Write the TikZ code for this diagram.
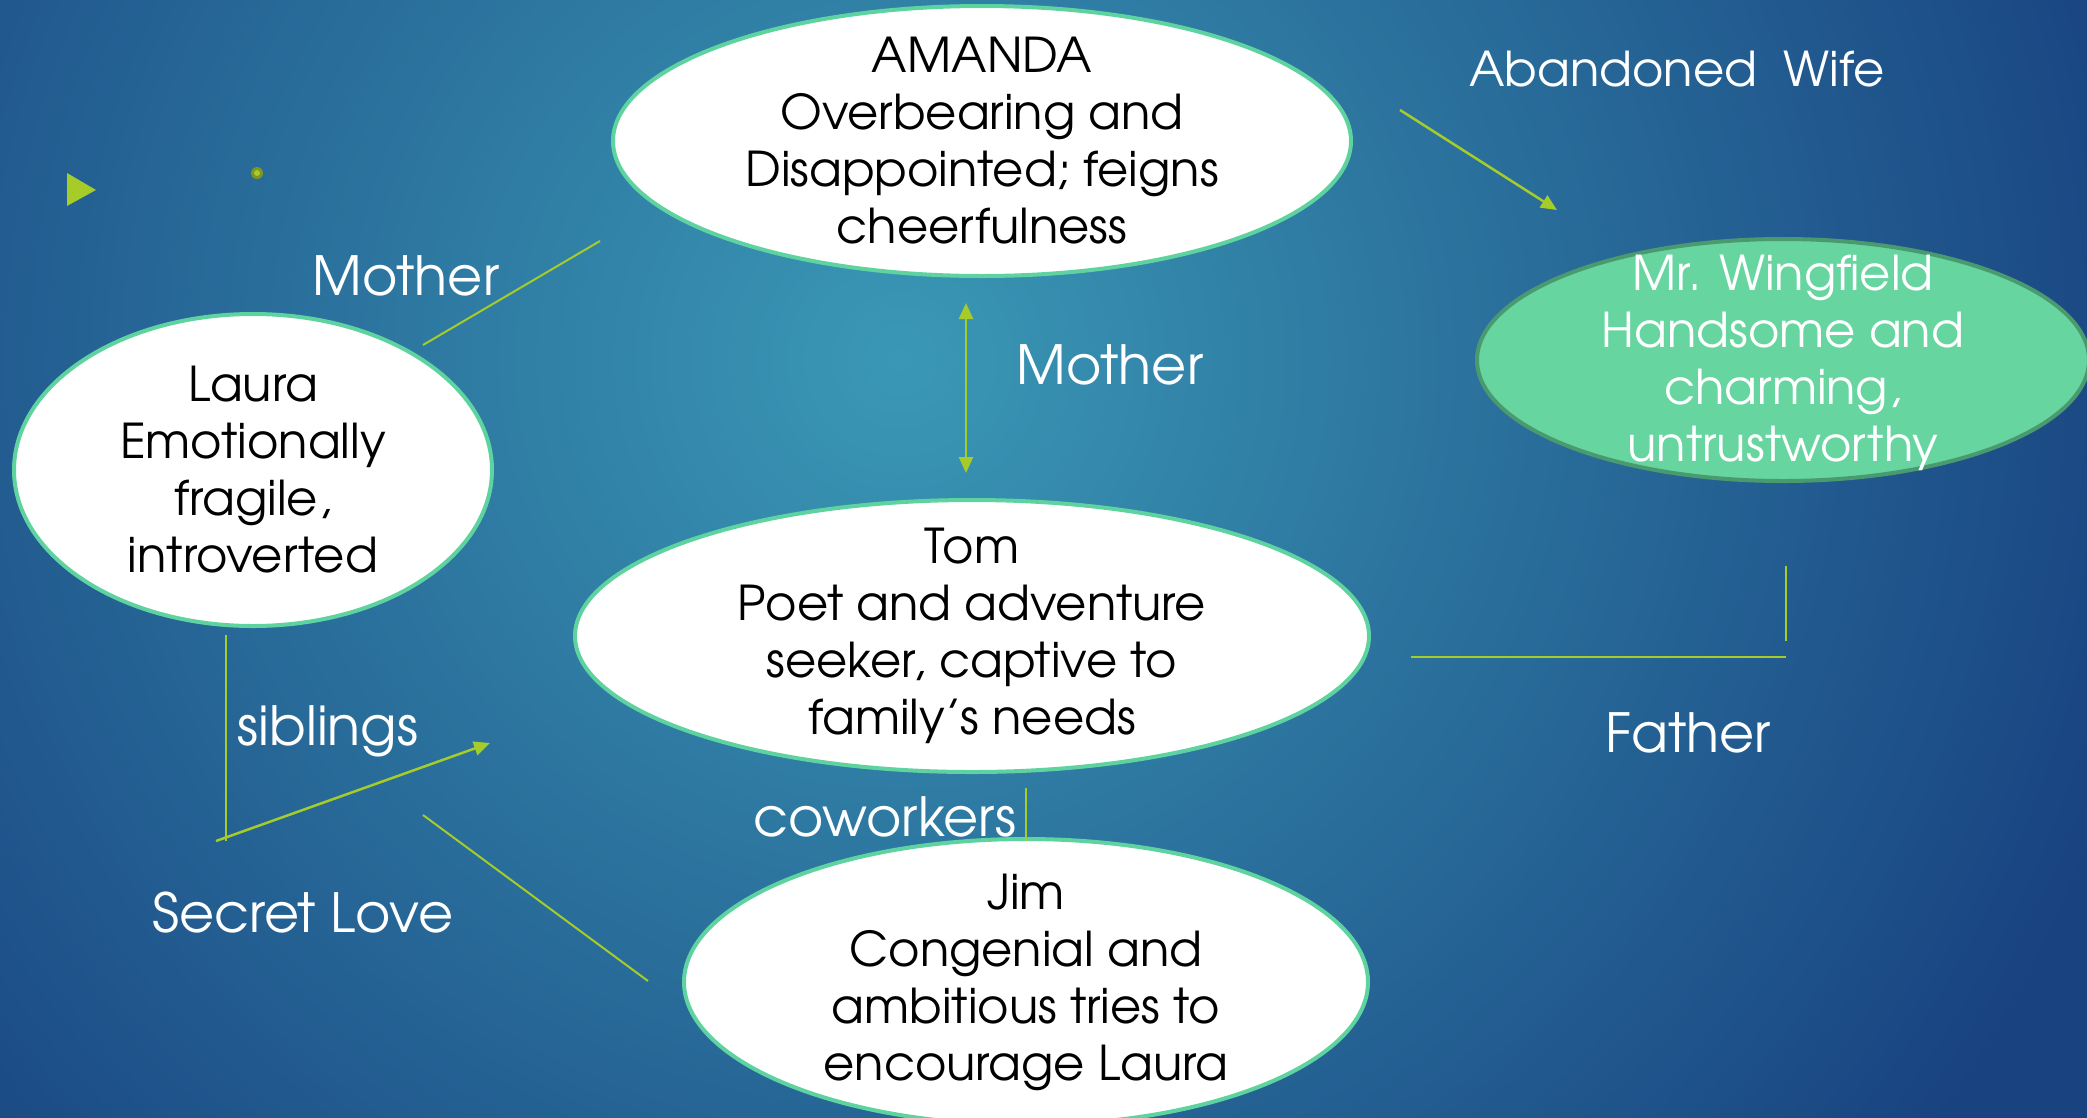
\documentclass[tikz,border=0pt]{standalone}
\usepackage{fontspec}
\setmainfont{TeX Gyre Adventor}
\usetikzlibrary{shapes.geometric,arrows.meta}

\definecolor{bgmid}{RGB}{58,152,181}
\definecolor{bgdark}{RGB}{24,66,128}
\definecolor{ringgreen}{RGB}{94,211,160}
\definecolor{wingfill}{RGB}{102,213,160}
\definecolor{wingring}{RGB}{74,154,112}
\definecolor{limeline}{RGB}{166,204,42}
\definecolor{dotring}{RGB}{128,150,30}

\newcommand{\slidesize}{\fontsize{48}{57}\selectfont}
\newcommand{\tagsize}{\fontsize{54}{60}\selectfont}

\tikzset{
  person/.style={ellipse, draw=ringgreen, line width=4pt, fill=white, inner sep=0pt},
  persontext/.style={align=center, font=\slidesize, text=black, inner sep=0pt},
  tag/.style={font=\tagsize, text=white, inner sep=0pt, anchor=base},
  tie/.style={draw=limeline, line width=2pt},
  tiearrow/.style={tie, line width=2.5pt, -{Triangle[length=16pt,width=14pt]}},
  tiearrows/.style={tie, line width=2.5pt, {Triangle[length=16pt,width=14pt]}-{Triangle[length=16pt,width=14pt]}},
}

\begin{document}
\begin{tikzpicture}[x=1pt,y=1pt,yscale=-1]
    \useasboundingbox (0,0) rectangle (2087,1117);

    % background
    \begin{scope}
        \clip (-6,-6) rectangle (2093,1123);
        \fill[bgdark] (-6,-6) rectangle (2093,1123);
        \shade[inner color=bgmid, outer color=bgdark] (900,360) circle (1300);
    \end{scope}

    % bullet and dot
    \fill[limeline] (67,173) -- (67,206) -- (96,190) -- cycle;
    \fill[dotring] (257,173) circle (6);
    \fill[limeline] (257,173) circle (3);

    % people
    \node[person, minimum width=738pt, minimum height=270pt,
          label={[persontext]center:{AMANDA\\Overbearing and\\Disappointed; feigns\\cheerfulness}}] (amanda) at (982,141) {};
    \node[person, draw=wingring, fill=wingfill, minimum width=612pt, minimum height=242pt] (wingfield) at (1783,360) {};
    \node[persontext, text=white] (wingtext) at ([yshift=3pt]wingfield.center)
          {Mr. Wingfield\\Handsome and\\charming,\\untrustworthy};
    \node[person, minimum width=478pt, minimum height=312pt,
          label={[persontext]center:{Laura\\Emotionally\\fragile,\\introverted}}] (laura) at (253,470) {};
    \node[person, minimum width=794pt, minimum height=272pt,
          label={[persontext]center:{Tom\\Poet and adventure\\seeker, captive to\\family's needs}}] (tom) at (972,636) {};
    \node[person, minimum width=684pt, minimum height=286pt,
          label={[persontext]center:{Jim\\Congenial and\\ambitious tries to\\encourage Laura}}] (jim) at (1026,982) {};

    % connector ends
    \coordinate (lauraup) at (423,345);
    \coordinate (amandaleft) at (600,241);
    \coordinate (amandaright) at (1400,110);
    \coordinate (wingtop) at (1557,210);
    \coordinate (amandadown) at (966,303);
    \coordinate (tomup) at (966,473);
    \coordinate (lauradown) at (226,635);
    \coordinate (sibcorner) at (226,841);
    \coordinate (sibstart) at (216,841);
    \coordinate (tomleft) at (490,743);
    \coordinate (lovestart) at (423,815);
    \coordinate (jimleft) at (648,981);
    \coordinate (tomright) at (1411,657);
    \coordinate (fathercorner) at (1786,657);
    \coordinate (wingdown) at (1786,566);
    \coordinate (wingdownend) at (1786,641);
    \coordinate (tomdown) at (1026,788);
    \coordinate (jimup) at (1026,841);

    % connectors
    \draw[tie] (lauraup) -- (amandaleft);
    \draw[tiearrow] (amandaright) -- (wingtop);
    \draw[tiearrows] (amandadown) -- (tomup);
    \draw[tie] (lauradown) -- (sibcorner);
    \draw[tiearrow] (sibstart) -- (tomleft);
    \draw[tie] (lovestart) -- (jimleft);
    \draw[tie] (tomright) -- (fathercorner);
    \draw[tie] (wingdown) -- (wingdownend);
    \draw[tie] (tomdown) -- (jimup);

    % labels
    \node[tag] (mothertag) at (406,295) {Mother};
    \node[tag, font=\slidesize] (abandonedtag) at (1677,86) {Abandoned~~Wife};
    \node[tag] (mothermidtag) at (1110,384) {Mother};
    \node[tag] (siblingstag) at (328,745) {siblings};
    \node[tag] (lovetag) at (303,932) {Secret Love};
    \node[tag] (fathertag) at (1688,752) {Father};
    \node[tag] (coworkerstag) at (885,836) {coworkers};

\end{tikzpicture}
\end{document}
